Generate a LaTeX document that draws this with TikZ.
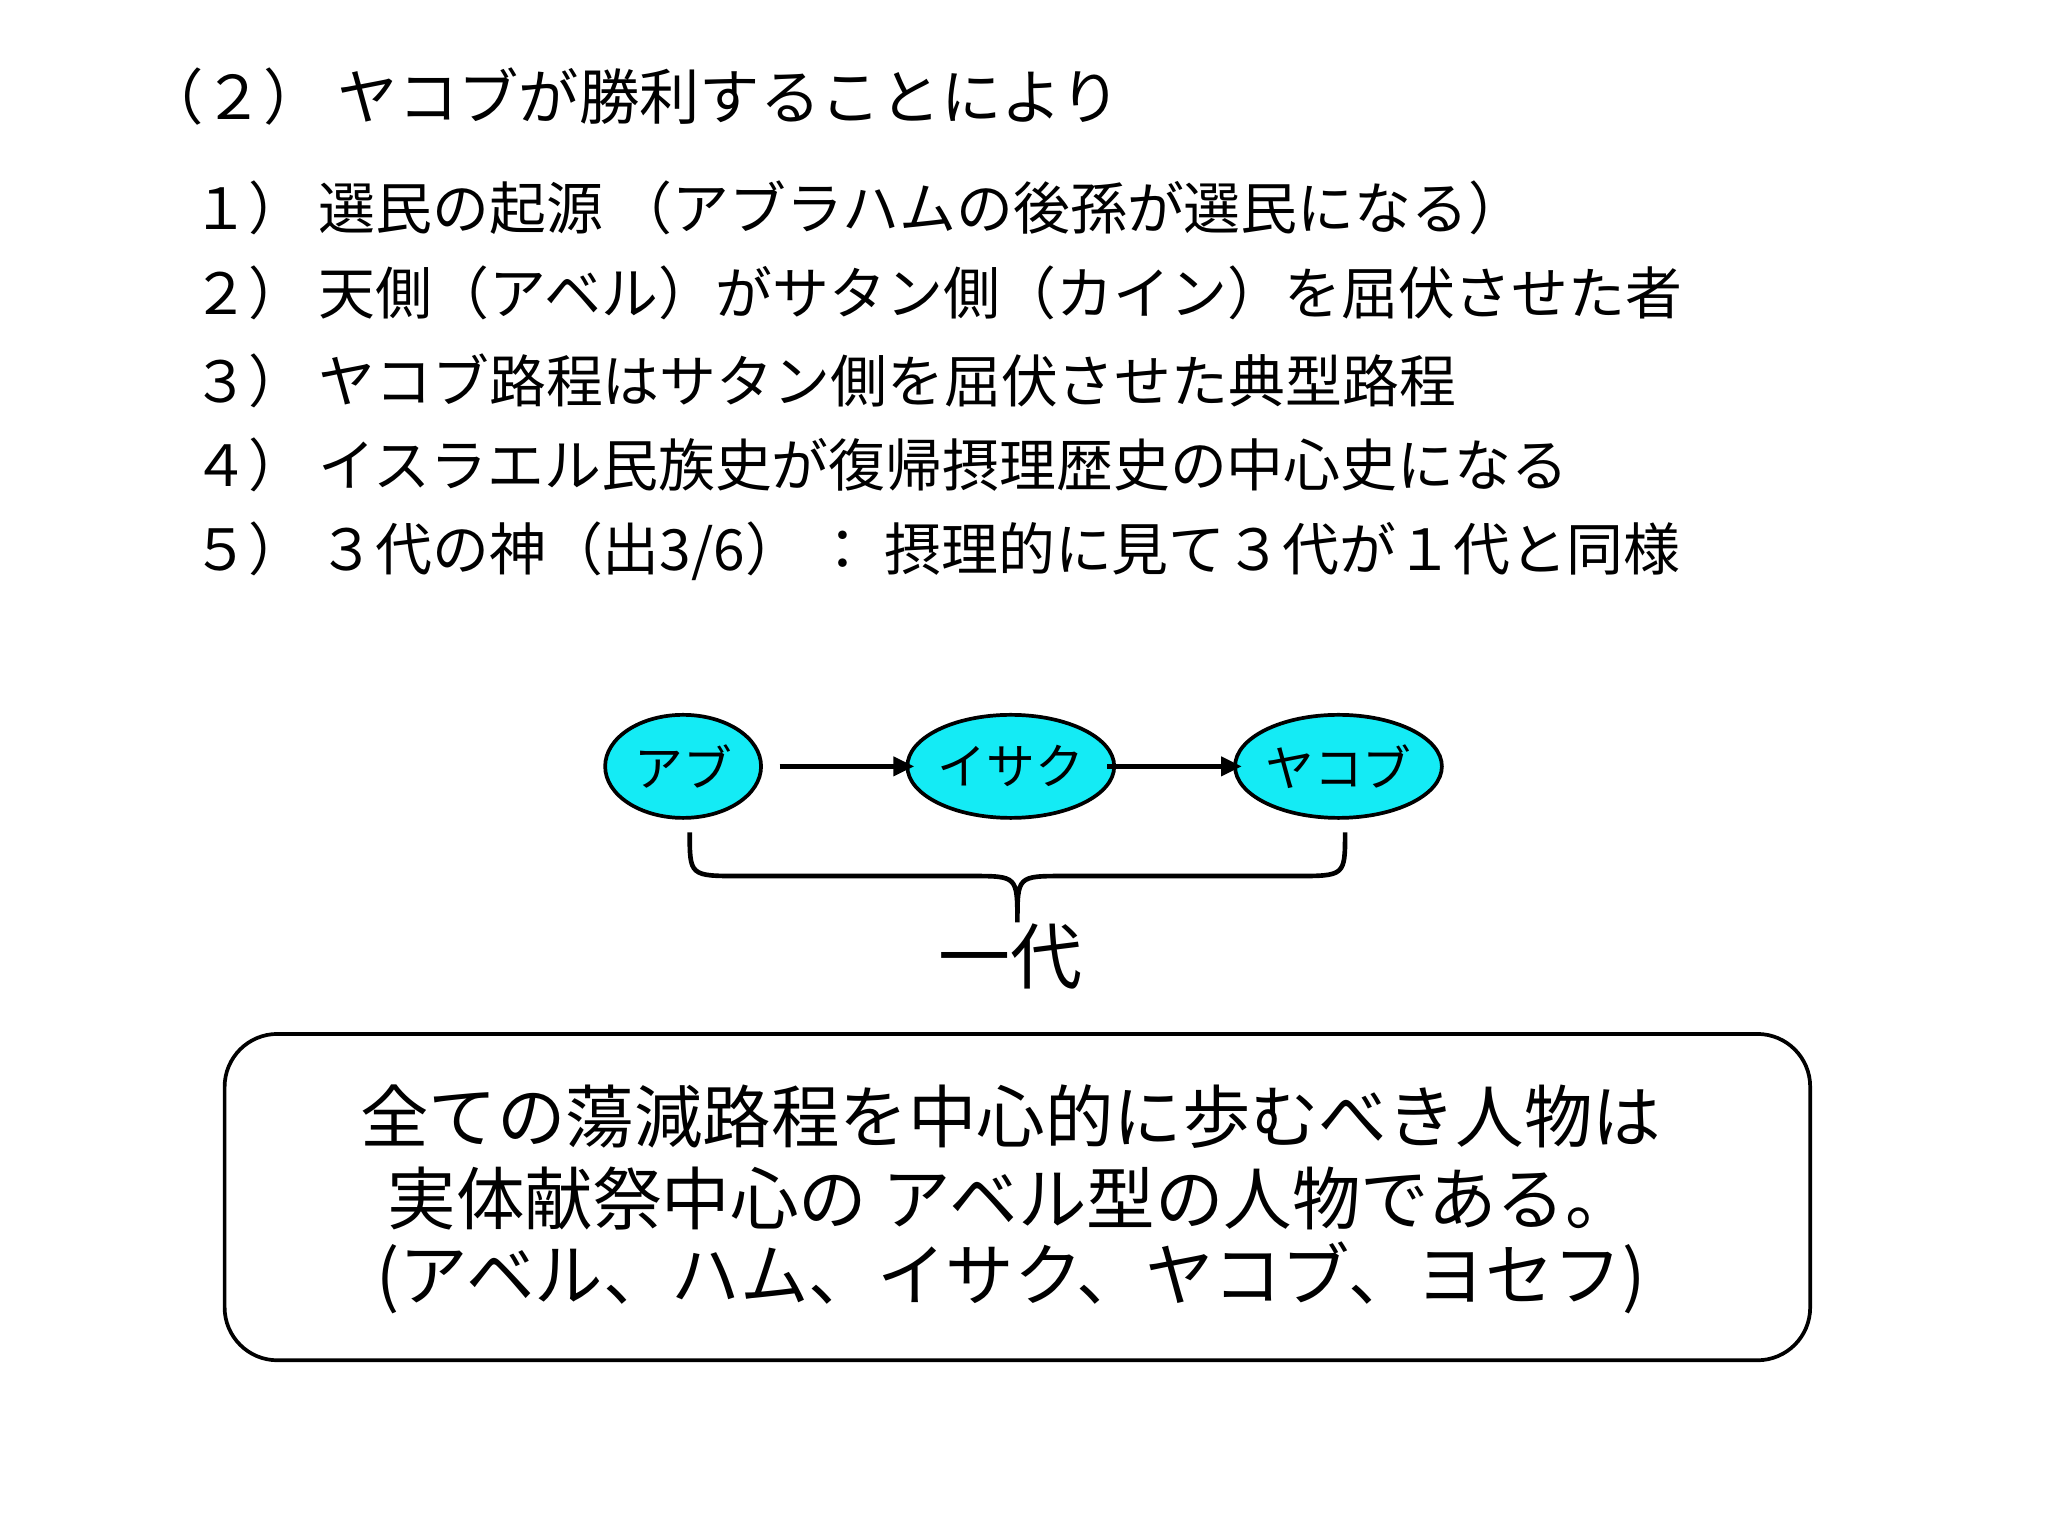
\documentclass[tikz,border=0pt]{standalone}
\usepackage{fontspec}
\setmainfont{Noto Sans CJK JP}
\usetikzlibrary{arrows.meta,shapes.geometric}
\definecolor{pcyan}{RGB}{20,235,245}
\begin{document}
\begin{tikzpicture}[x=0.02cm,y=-0.02cm,
  line/.style={anchor=west,font=\fontsize{24.5}{28}\selectfont,inner sep=0},
  person/.style={ellipse,draw,line width=1.6pt,fill=pcyan,minimum width=118*0.02cm,minimum height=78*0.02cm,inner sep=0,font=\fontsize{21}{24}\selectfont},
  arr/.style={-{Triangle[length=9pt,width=8pt]},line width=2.2pt},
  big/.style={font=\fontsize{29.5}{34}\selectfont}]
\useasboundingbox (0,0) rectangle (1550,1162.5);
\node[line,font=\fontsize{26}{30}\selectfont] (t) at (108,73) {（２）\ ヤコブが勝利することにより};
\node[line] (i1) at (145,157) {１）\ 選民の起源 （アブラハムの後孫が選民になる）};
\node[line] (i2) at (145,222) {２）\ 天側（アベル）がサタン側（カイン）を屈伏させた者};
\node[line] (i3) at (145,288) {３）\ ヤコブ路程はサタン側を屈伏させた典型路程};
\node[line] (i4) at (145,352) {４）\ イスラエル民族史が復帰摂理歴史の中心史になる};
\node[line] (i5) at (145,417) {５）\ ３代の神（出3/6）\ ：\ 摂理的に見て３代が１代と同様};
\node[person] (a) at (517,580) {アブ};
\node[person] (b) at (765,580) {イサク};
\node[person] (c) at (1013,580) {ヤコブ};
\draw[arr] (590,580) coordinate (a1) -- (692,580) coordinate (b1);
\draw[arr] (838,580) coordinate (b2) -- (940,580) coordinate (c1);
\coordinate (bl) at (522,630);
\coordinate (br) at (1018,630);
\coordinate (bt) at (770,698);
\draw[line width=2pt] (bl) .. controls (522,663) .. (560,663) -- (735,663) .. controls (770,663) .. (bt)
  .. controls (770,663) .. (805,663) -- (980,663) .. controls (1018,663) .. (br);
\node[font=\fontsize{31}{34}\selectfont] (g) at (765,724) {一代};
\node[draw,line width=1.6pt,rounded corners=40*0.02cm,minimum width=1200*0.02cm,minimum height=247*0.02cm] (box) at (770,906) {};
\node[big] (l1) at (765,845) {全ての蕩減路程を中心的に歩むべき人物は};
\node[big] (l2) at (765,907) {実体献祭中心の アベル型の人物である。};
\node[big] (l3) at (765,967) {(アベル、ハム、イサク、ヤコブ、ヨセフ)};
\end{tikzpicture}
\end{document}
